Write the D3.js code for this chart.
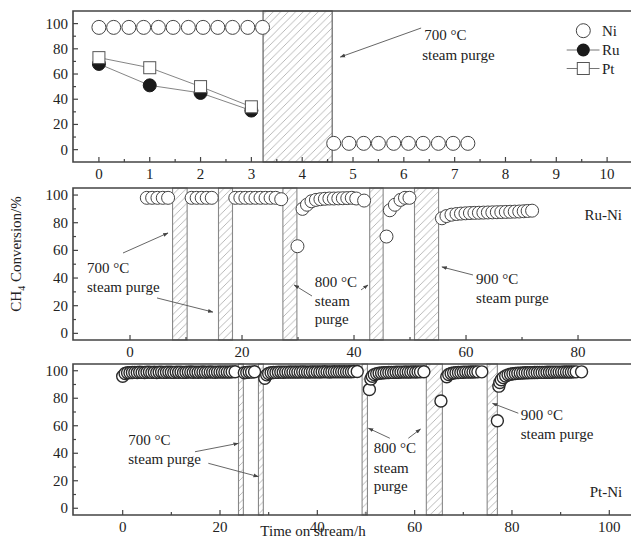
<!DOCTYPE html>
<html><head><meta charset="utf-8">
<script src="https://cdn.jsdelivr.net/npm/d3@7"></script>
<style>body{margin:0;background:#fff}svg{display:block}</style>
</head><body>
<svg id="c" width="631" height="538"></svg>
<script>
// ---------- DATA ----------
// Panel (a): time (h) vs CH4 conversion (%)
const niA = [[0,97],[0.29,97],[0.59,97],[0.88,97],[1.17,97],[1.46,97],[1.76,97],[2.05,97],[2.34,97],[2.63,97],[2.93,97],[3.22,97],
             [4.62,5],[4.92,5],[5.21,5],[5.5,5],[5.8,5],[6.09,5],[6.38,5],[6.68,5],[6.97,5],[7.26,5]];
const ruA = [[0,68],[1,51],[2,45],[3,31]];
const ptA = [[0,73],[1,65],[2,50],[3,34]];
const purgeA = [[3.23,4.59]];
const ticksA = [0,1,2,3,4,5,6,7,8,9,10];

// Panel (b): Ru-Ni
const ruNi = [[3.0,98],[3.95,98],[4.9,98],[5.85,98],[6.8,98],
  [11.0,98],[11.9,98],[12.8,98],[13.7,98],[14.6,98],
  [18.8,98],[19.7,98],[20.6,98],[21.5,98],[22.4,98],[23.3,98],[24.2,98],[25.1,98],[26.0,98],[27.0,97],
  [29.9,63],[30.8,90],[31.6,93],[32.4,95.5],[33.2,96.5],[34.0,97],[34.8,97.3],[35.6,97.5],[36.4,97.5],[37.2,97.6],[38.0,97.7],[38.8,97.8],[39.6,98],[40.4,97.5],[41.8,96],
  [45.8,70],[46.4,89],[47.3,93],[48.3,96.5],[49.1,98],[49.9,98],
  [55.7,83.2],[56.5,84.8],[57.4,85.8],[58.3,86.3],[59.1,86.6],[59.9,86.8],[60.7,87],[61.5,87.1],[62.3,87.2],[63.1,87.3],[63.9,87.4],[64.7,87.5],[65.5,87.6],[66.3,87.7],[67.1,87.8],[67.9,87.9],[68.7,88],[69.5,88.1],[70.3,88.3],[71.0,88.5],[71.8,88.7]];
const purgeB = [[7.6,10.2],[15.8,18.3],[27.3,29.8],[42.8,45.2],[50.8,55.1]];
const ticksB = [0,20,40,60,80];

// Panel (c): Pt-Ni
const ptNi = [[0,96],[0.5,98],[1,98.5],[1.5,98.6],[2,98.7],[2.5,98.8],[3,98.7],[3.5,98.9],[4,98.8],[4.5,98.7],[5,98.9],[5.5,99],[6,98.8],[6.5,98.9],[7,98.7],[7.5,98.9],[8,99],[8.5,98.8],[9,98.9],[9.5,99],[10,98.9],[10.5,98.8],[11,99],[11.5,98.9],[12,99],[12.5,98.8],[13,98.9],[13.5,99],[14,99.1],[14.5,98.9],[15,99],[15.5,98.9],[16,99],[16.5,99.1],[17,98.9],[17.5,99],[18,99.1],[18.5,99],[19,98.9],[19.5,99],[20,99.1],[20.5,99],[21,99.1],[21.5,99],[22,99.1],[22.5,99.2],[23.1,99.3],
  [25.0,98.5],[25.5,98.8],[26.0,99],[26.5,99],[27.1,99.3],
  [29.2,94.5],[29.6,97],[30.0,98],[30.5,98.5],[31,98.7],[31.5,98.8],[32,98.9],[32.5,99],[33,98.9],[33.5,99],[34,99],[34.5,99.1],[35,99],[35.5,99.1],[36,99],[36.5,99.1],[37,99.2],[37.5,99.1],[38,99],[38.5,99.1],[39,99.2],[39.5,99.1],[40,99.2],[40.5,99.1],[41,99.2],[41.5,99.3],[42,99.2],[42.5,99.1],[43,99.2],[43.5,99.3],[44,99.2],[44.5,99.3],[45,99.2],[45.5,99.3],[46,99.2],[46.5,99.3],[47,99.3],[47.5,99.4],[48.2,99.4],
  [50.7,86.4],[51.0,94],[51.3,96],[51.7,97.2],[52.2,97.8],[52.7,98.2],[53.2,98.4],[53.7,98.5],[54.2,98.6],[54.7,98.7],[55.2,98.8],[55.7,98.8],[56.2,98.9],[56.7,98.9],[57.2,99],[57.7,99],[58.2,99.1],[58.7,99],[59.2,99.1],[59.7,99.2],[60.2,99.1],[60.7,99.2],[61.2,99.2],[61.9,99.3],
  [65.4,78],[66.6,95.6],[67.0,97.3],[67.5,98],[68,98.4],[68.5,98.6],[69,98.7],[69.5,98.8],[70,98.9],[70.5,99],[71,99],[71.5,99.1],[72,99.1],[72.5,99.2],[73,99.2],[73.8,99.2],
  [77.0,63.6],[77.3,88.8],[77.5,91.5],[77.8,93.5],[78.2,95],[78.7,96.2],[79.2,97],[79.7,97.5],[80.2,97.8],[80.7,98],[81.2,98.2],[81.7,98.3],[82.2,98.4],[82.7,98.5],[83.2,98.5],[83.7,98.6],[84.2,98.6],[84.7,98.7],[85.2,98.7],[85.7,98.8],[86.2,98.8],[86.7,98.8],[87.2,98.9],[87.7,98.9],[88.2,98.9],[88.7,99],[89.2,99],[89.7,99],[90.2,99],[90.7,99.1],[91.2,99.1],[91.7,99.1],[92.2,99.1],[92.7,99.2],[93.2,99.2],[94.3,99.2]];
const purgeC = [[23.8,24.8],[27.9,28.9],[49.2,50.3],[62.4,65.7],[74.9,77.0]];
const ticksC = [0,20,40,60,80,100];

const yTicks = [0,20,40,60,80,100];
const legendNames = ["Ni","Ru","Pt"];
const yLabel = " Conversion/%";
const xLabel = "Time on stream/h";

// ---------- LAYOUT ----------
const svg = d3.select("#c");
const FONT = "'Liberation Serif','DejaVu Serif',serif";
const frame = "#444";
const L = 73, R = 631;

const defs = svg.append("defs");
const pat = defs.append("pattern").attr("id","hatch").attr("patternUnits","userSpaceOnUse")
  .attr("width",7.5).attr("height",7.5);
pat.append("path").attr("d","M0,7.5L7.5,0M-1,1L1,-1M6.5,8.5L8.5,6.5").attr("stroke","#9a9a9a").attr("stroke-width",0.7);

const panels = [
  {x:d3.scaleLinear().domain([-0.51,10.47]).range([L,R]), y:d3.scaleLinear().domain([-9.8,110]).range([162,11]),
   ticks:ticksA, minor:d3.range(0.5,10.5,1), purge:purgeA, lab:179, pStroke:"#555"},
  {x:d3.scaleLinear().domain([-10.18,89.46]).range([L,R]), y:d3.scaleLinear().domain([-4.8,105.1]).range([340,188]),
   ticks:ticksB, minor:[10,30,50,70], purge:purgeB, lab:357, pStroke:"#888"},
  {x:d3.scaleLinear().domain([-10.21,104.46]).range([L,R]), y:d3.scaleLinear().domain([-4.9,104.9]).range([515,364]),
   ticks:ticksC, minor:[10,30,50,70,90], purge:purgeC, lab:532, pStroke:"#888"}
];

panels.forEach(p => {
  const g = svg.append("g");
  const [y0,y1] = p.y.range();
  g.selectAll("rect.purge").data(p.purge).join("rect")
    .attr("x",d=>p.x(d[0])).attr("width",d=>p.x(d[1])-p.x(d[0]))
    .attr("y",y1).attr("height",y0-y1)
    .attr("fill","url(#hatch)").attr("stroke",p.pStroke).attr("stroke-width",1.1);
  g.append("path").attr("d",`M${R+2},${y1}H${L}V${y0}H${R+2}`).attr("fill","none").attr("stroke",frame).attr("stroke-width",1.6);
  g.selectAll("line.xt").data(p.ticks).join("line").attr("x1",d=>p.x(d)).attr("x2",d=>p.x(d)).attr("y1",y0).attr("y2",y0-5).attr("stroke",frame).attr("stroke-width",1.2);
  g.selectAll("line.xm").data(p.minor).join("line").attr("x1",d=>p.x(d)).attr("x2",d=>p.x(d)).attr("y1",y0).attr("y2",y0-3).attr("stroke",frame).attr("stroke-width",1.2);
  g.selectAll("text.xl").data(p.ticks).join("text").attr("x",d=>p.x(d)).attr("y",p.lab).attr("text-anchor","middle")
    .attr("font-family",FONT).attr("font-size",15).attr("fill","#222").text(d=>d);
  g.selectAll("line.yt").data(yTicks).join("line").attr("x1",L).attr("x2",L+5).attr("y1",d=>p.y(d)).attr("y2",d=>p.y(d)).attr("stroke",frame).attr("stroke-width",1.2);
  g.selectAll("line.ym").data([10,30,50,70,90]).join("line").attr("x1",L).attr("x2",L+3).attr("y1",d=>p.y(d)).attr("y2",d=>p.y(d)).attr("stroke",frame).attr("stroke-width",1.2);
  g.selectAll("text.yl").data(yTicks).join("text").attr("x",L-5).attr("y",d=>p.y(d)+5).attr("text-anchor","end")
    .attr("font-family",FONT).attr("font-size",15).attr("fill","#222").text(d=>d);
});

const [pa,pb,pc] = panels;
const mk = svg.append("g");

const lineA = d3.line().x(d=>pa.x(d[0])).y(d=>pa.y(d[1]));
mk.append("path").datum(ruA).attr("d",lineA).attr("fill","none").attr("stroke","#777").attr("stroke-width",0.9);
mk.append("path").datum(ptA).attr("d",lineA).attr("fill","none").attr("stroke","#777").attr("stroke-width",0.9);
mk.selectAll("circle.niA").data(niA).join("circle").attr("cx",d=>pa.x(d[0])).attr("cy",d=>pa.y(d[1])).attr("r",7)
  .attr("fill","#fff").attr("stroke","#444").attr("stroke-width",1);
mk.selectAll("circle.ruA").data(ruA).join("circle").attr("cx",d=>pa.x(d[0])).attr("cy",d=>pa.y(d[1])).attr("r",6.5)
  .attr("fill","#1a1a1a").attr("stroke","#1a1a1a");
mk.selectAll("rect.ptA").data(ptA).join("rect").attr("x",d=>pa.x(d[0])-6).attr("y",d=>pa.y(d[1])-6).attr("width",12).attr("height",12)
  .attr("fill","#fff").attr("stroke","#555").attr("stroke-width",1);

mk.selectAll("circle.ruNi").data(ruNi).join("circle").attr("cx",d=>pb.x(d[0])).attr("cy",d=>pb.y(d[1])).attr("r",6.5)
  .attr("fill","#fff").attr("stroke","#444").attr("stroke-width",1);
mk.selectAll("circle.ptNi").data(ptNi).join("circle").attr("cx",d=>pc.x(d[0])).attr("cy",d=>pc.y(d[1])).attr("r",6)
  .attr("fill","#fff").attr("stroke","#2a2a2a").attr("stroke-width",1.4);

// Legend
const lg = svg.append("g").attr("font-family",FONT).attr("font-size",15).attr("fill","#222");
[30.7,50,68.5].forEach((yy,i)=>{
  if(i>0) lg.append("line").attr("x1",566.7).attr("x2",599.5).attr("y1",yy).attr("y2",yy).attr("stroke","#666").attr("stroke-width",0.9);
  if(i===0) lg.append("circle").attr("cx",583.3).attr("cy",yy).attr("r",7).attr("fill","#fff").attr("stroke","#444");
  if(i===1) lg.append("circle").attr("cx",583.3).attr("cy",yy).attr("r",6.5).attr("fill","#1a1a1a");
  if(i===2) lg.append("rect").attr("x",577.3).attr("y",yy-6).attr("width",12).attr("height",12).attr("fill","#fff").attr("stroke","#555");
  lg.append("text").attr("x",602).attr("y",yy+5).text(legendNames[i]);
});

// Annotations (in data coordinates)
defs.append("marker").attr("id","ah").attr("viewBox","0 0 10 10").attr("refX",9).attr("refY",5)
  .attr("markerWidth",6).attr("markerHeight",6).attr("orient","auto")
  .append("path").attr("d","M0,1.5L10,5L0,8.5z").attr("fill","#444");
const ann = svg.append("g").attr("font-family",FONT).attr("font-size",15).attr("fill","#222");
function txt(p,t,v,s,anchor){ann.append("text").attr("x",p.x(t)).attr("y",p.y(v)).attr("text-anchor",anchor||"start").text(s);}
function arr(p,t0,v0,t1,v1){ann.append("line").attr("x1",p.x(t0)).attr("y1",p.y(v0)).attr("x2",p.x(t1)).attr("y2",p.y(v1))
  .attr("stroke","#555").attr("stroke-width",0.9).attr("marker-end","url(#ah)");}
const deg = "700 °C", deg8 = "800 °C", deg9 = "900 °C", sp = "steam purge";
txt(pa,6.40,87,deg); txt(pa,6.36,71.1,sp); arr(pa,6.34,96.5,4.75,73.5);
txt(pb,-7.68,43.6,deg); txt(pb,-7.68,29.9,sp);
arr(pb,-1.25,58.1,6.79,72.6); arr(pb,4.82,25.6,14.8,15.4);
txt(pb,33.0,33.5,deg8); txt(pb,33.0,19.8,"steam"); txt(pb,33.0,6.6,"purge");
arr(pb,32.5,27.0,29.3,35.0); arr(pb,41.25,31.4,42.5,35.0);
txt(pb,61.8,35.7,deg9); txt(pb,61.8,22.0,sp); arr(pb,61.25,42.2,55.7,48.0);
txt(pb,84.5,82.0,"Ru-Ni","middle");
txt(pc,1.15,46.0,deg); txt(pc,1.15,32.2,sp);
arr(pc,14.86,41.1,23.76,47.2); arr(pc,17.6,32.7,27.87,23.0);
txt(pc,51.6,40.2,deg8); txt(pc,51.6,25.6,"steam"); txt(pc,51.6,12.6,"purge");
arr(pc,54.9,50.9,50.5,58.2); arr(pc,58.7,50.9,61.2,57.6);
txt(pc,81.8,64.2,deg9); txt(pc,81.8,50.4,sp); arr(pc,81.3,69.1,76.0,76.3);
txt(pc,99.3,8.2,"Pt-Ni","middle");

// Axis titles
const yl = svg.append("text").attr("transform","translate(21,254) rotate(-90)").attr("text-anchor","middle")
  .attr("font-family",FONT).attr("font-size",15).attr("fill","#222");
yl.append("tspan").text("CH");
yl.append("tspan").attr("font-size",10).attr("dy",4).text("4");
yl.append("tspan").attr("dy",-4).text(yLabel);
svg.append("text").attr("x",313).attr("y",536).attr("text-anchor","middle").attr("font-family",FONT).attr("font-size",15).attr("fill","#222").text(xLabel);
</script>
</body></html>
